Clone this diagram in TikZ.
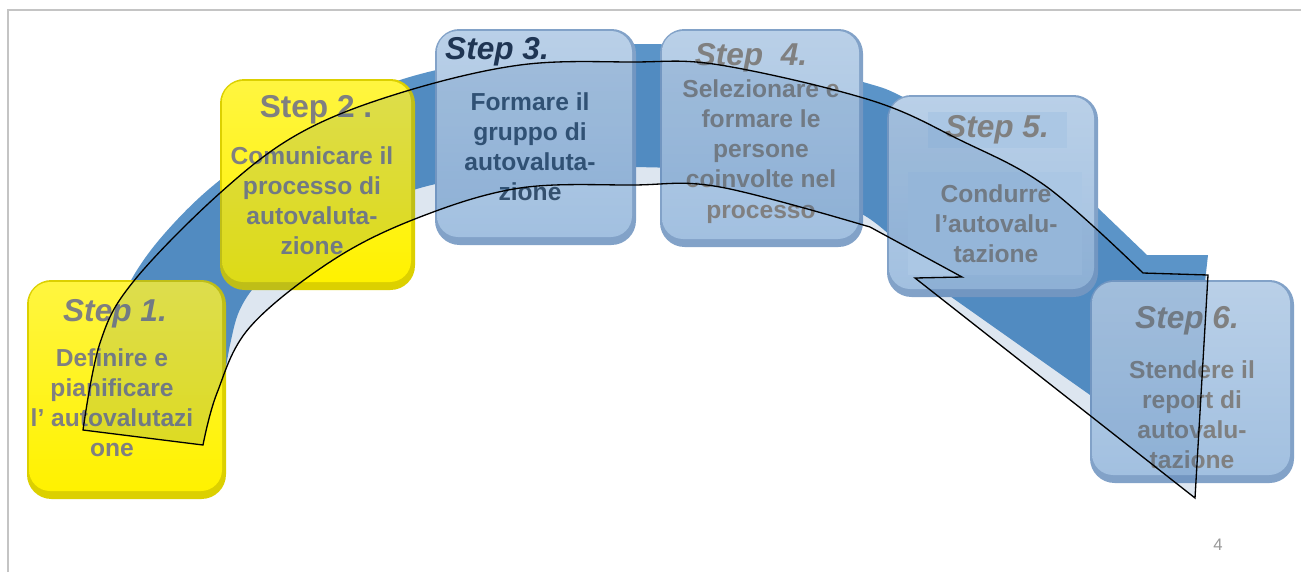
\documentclass[tikz,border=0pt]{standalone}
\usepackage{fontspec}
\setmainfont{Liberation Sans}
\definecolor{arcblue}{HTML}{5B94C8}
\definecolor{shadeblue}{RGB}{28,88,155}
\definecolor{boxyel}{HTML}{FFF200}
\definecolor{boxyeldk}{HTML}{DCD000}
\definecolor{boxblu}{HTML}{A2C0E0}
\definecolor{boxbludk}{HTML}{82A2C8}
\definecolor{panelblu}{HTML}{ABC7E4}
\definecolor{txtgray}{HTML}{808080}
\definecolor{txtnavy}{HTML}{1F3553}
\definecolor{txtslate}{HTML}{34506E}
\definecolor{framegray}{HTML}{C4C4C4}
\tikzset{
  steplab/.style={anchor=base, inner sep=0pt, text=txtgray, font=\bfseries\itshape\fontsize{18}{20}\selectfont},
  steptxt/.style={anchor=north, inner sep=0pt, align=center, text=txtgray, font=\bfseries\fontsize{14}{17.2}\selectfont},
}
\newcommand{\bevelbox}[6]{%
  \fill[#6, rounded corners=14pt] (#1,#2) rectangle (#3,#4);
  \shade[top color=#5!75!white, middle color=#5, bottom color=#5, rounded corners=12pt] (#1+2,#2+2) rectangle (#3-4,#4-8);
}
\begin{document}
\begin{tikzpicture}[x=0.02cm, y=-0.02cm]
\fill[white] (0,0) rectangle (1301,572);
\useasboundingbox (0,0) rectangle (1301,572);
\draw[framegray, line width=1.2pt] (8,572) -- (8,10) -- (1301,10);
\fill[arcblue] plot[smooth, tension=0.6] coordinates {(100,420) (112,330) (130,282) (165,233) (220,180) (300,126) (400,80) (520,55) (648,44) (760,56) (863,82) (907,99) (1000,150) (1098,208)}
  -- (1147,255) -- (1208,255) -- (1185,462) -- (930,282)
  -- plot[smooth, tension=0.6] coordinates {(915,262) (860,213) (750,176) (633,167) (520,172) (420,188) (333,225) (280,262) (245,300) (230,345) (215,440)} -- cycle;
\bevelbox{27}{280}{226}{499}{boxyel}{boxyeldk}
\bevelbox{220}{79}{415}{290}{boxyel}{boxyeldk}
\bevelbox{435}{29}{636}{245}{boxblu}{boxbludk}
\bevelbox{660}{29}{863}{247}{boxblu}{boxbludk}
\bevelbox{887}{95}{1098}{297}{boxblu}{boxbludk}
\bevelbox{1090}{280}{1294}{483}{boxblu}{boxbludk}
\fill[panelblu] (928,112) rectangle (1067,148);
\fill[panelblu] (908,172) rectangle (1082,275);
\node[steplab] (st1) at (115,321) {Step 1.};
\node[steptxt] (tx1) at (112,348) {Definire e\\pianificare\\l’ autovalutazi\\one};
\node[steplab, font=\bfseries\fontsize{18}{20}\selectfont] (st2) at (316,117) {Step 2 .};
\node[steptxt] (tx2) at (312,146) {Comunicare il\\processo di\\autovaluta-\\zione};
\node[steplab, text=txtnavy] (st3) at (497,59) {Step 3.};
\node[steptxt, text=txtslate] (tx3) at (530,92) {Formare il\\gruppo di\\autovaluta-\\zione};
\node[steplab] (st4) at (751,65) {Step\ \ 4.};
\node[steptxt] (tx4) at (761,79) {Selezionare e\\formare le\\persone\\coinvolte nel\\processo};
\node[steplab] (st5) at (997,137) {Step 5.};
\node[steptxt] (tx5) at (996,184) {Condurre\\l’autovalu-\\tazione};
\node[steplab] (st6) at (1187,328) {Step 6.};
\node[steptxt] (tx6) at (1192,360) {Stendere il\\report di\\autovalu-\\tazione};
\draw[black, line width=0.75pt, fill=shadeblue, fill opacity=0.15] plot[smooth, tension=0.6] coordinates {(83,430) (100,343) (133,282) (220,193) (300,133) (400,93) (520,65) (633,62) (720,65) (870,100) (960,140) (1047,187) (1143,273)}
  -- (1208,275) -- (1195,498) -- (915,278) -- (962,277)
  -- plot[smooth, tension=0.6] coordinates {(870,227) (720,187) (633,185) (520,188) (420,217) (333,260) (250,327) (217,393) (203,445)} -- cycle;
\node[text=gray!80, font=\fontsize{9.5}{11}\selectfont] (pg) at (1218,545) {4};
\end{tikzpicture}
\end{document}
